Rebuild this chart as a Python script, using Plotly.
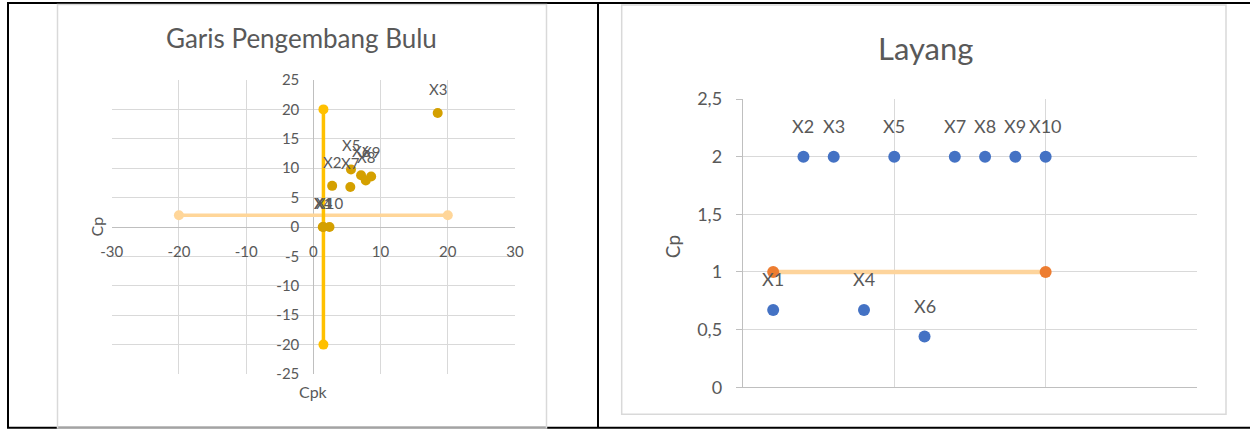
import plotly.graph_objects as go

W, H = 1250, 429


def px(x):
    """Pixel column -> paper fraction."""
    return x / W


def py(y):
    """Pixel row (from top) -> paper fraction."""
    return 1 - y / H


point_names = ["X1", "X2", "X3", "X4", "X5", "X6", "X7", "X8", "X9", "X10"]

# --- Garis Pengembang Bulu: Cpk (x) vs Cp (y) ---
bulu_cpk = [1.4, 2.8, 18.5, 1.5, 5.6, 7.1, 5.5, 7.8, 8.6, 2.4]
bulu_cp = [0.0, 7.0, 19.4, 0.0, 9.8, 8.8, 6.8, 7.9, 8.6, 0.0]
bulu_vline_x = [1.5, 1.5]
bulu_vline_y = [20, -20]
bulu_hline_x = [-20, 20]
bulu_hline_y = [2, 2]
bulu_xticks = [-30, -20, -10, 0, 10, 20, 30]
bulu_yticks = [25, 20, 15, 10, 5, 0, -5, -10, -15, -20, -25]

# --- Layang: Cp per item ---
layang_x = [1, 2, 3, 4, 5, 6, 7, 8, 9, 10]
layang_cp = [0.67, 2, 2, 0.67, 2, 0.44, 2, 2, 2, 2]
layang_line_x = [1, 10]
layang_line_y = [1, 1]
layang_yticks = [0, 0.5, 1, 1.5, 2, 2.5]
layang_yticktext = ["0", "0,5", "1", "1,5", "2", "2,5"]

FONT = "Lato"
TXT = "#595959"
GRID = "#D9D9D9"
AXIS = "#BFBFBF"

fig = go.Figure()

# left chart traces
fig.add_trace(go.Scatter(x=bulu_hline_x, y=bulu_hline_y, mode="lines+markers",
                         line=dict(color="#FFD699", width=3.5),
                         marker=dict(color="#FFD699", size=10),
                         xaxis="x", yaxis="y", hoverinfo="skip"))
fig.add_trace(go.Scatter(x=bulu_vline_x, y=bulu_vline_y, mode="lines+markers",
                         line=dict(color="#FFC000", width=3.5),
                         marker=dict(color="#FFC000", size=10),
                         xaxis="x", yaxis="y", hoverinfo="skip"))
fig.add_trace(go.Scatter(x=bulu_cpk, y=bulu_cp, mode="markers",
                         marker=dict(color="#D4A000", size=10),
                         xaxis="x", yaxis="y", text=point_names))

# right chart traces
fig.add_trace(go.Scatter(x=layang_line_x, y=layang_line_y, mode="lines+markers",
                         line=dict(color="#FDD49C", width=4.5),
                         marker=dict(color="#ED7D31", size=12),
                         xaxis="x2", yaxis="y2", hoverinfo="skip"))
fig.add_trace(go.Scatter(x=layang_x, y=layang_cp, mode="markers",
                         marker=dict(color="#4472C4", size=12),
                         xaxis="x2", yaxis="y2", text=point_names))

annotations = []
for name, xv, yv in zip(point_names, bulu_cpk, bulu_cp):
    annotations.append(dict(x=xv, y=yv, xref="x", yref="y", text=name,
                            showarrow=False, yshift=24,
                            font=dict(family=FONT, size=15, color=TXT)))
for name, xv, yv in zip(point_names, layang_x, layang_cp):
    annotations.append(dict(x=xv, y=yv, xref="x2", yref="y2", text=name,
                            showarrow=False, yshift=31,
                            font=dict(family=FONT, size=18, color=TXT)))

# titles
annotations += [
    dict(x=px(301.7), y=py(38.3), xref="paper", yref="paper", text="Garis Pengembang Bulu",
         showarrow=False, xanchor="center", yanchor="middle",
         font=dict(family=FONT, size=26, color=TXT)),
    dict(x=px(925), y=py(48), xref="paper", yref="paper", text="Layang",
         showarrow=False, xanchor="center", yanchor="middle",
         font=dict(family=FONT, size=31, color=TXT)),
    dict(x=px(96.7), y=py(226.7), xref="paper", yref="paper", text="Cp", textangle=-90,
         showarrow=False, xanchor="center", yanchor="middle",
         font=dict(family=FONT, size=16, color=TXT)),
    dict(x=px(313), y=py(391.7), xref="paper", yref="paper", text="Cpk",
         showarrow=False, xanchor="center", yanchor="middle",
         font=dict(family=FONT, size=16, color=TXT)),
    dict(x=px(672.5), y=py(246.7), xref="paper", yref="paper", text="Cp", textangle=-90,
         showarrow=False, xanchor="center", yanchor="middle",
         font=dict(family=FONT, size=19, color=TXT)),
]


# table borders and chart frames
def line(x0, y0, x1, y1, color, width):
    return dict(type="line", xref="paper", yref="paper",
                x0=px(x0), y0=py(y0), x1=px(x1), y1=py(y1),
                line=dict(color=color, width=width), layer="above")


def rect(x0, y0, x1, y1, color, width):
    return dict(type="rect", xref="paper", yref="paper",
                x0=px(x0), y0=py(y0), x1=px(x1), y1=py(y1),
                line=dict(color=color, width=width), fillcolor="rgba(0,0,0,0)", layer="above")


shapes = [
    line(7, 3, 1250, 3, "black", 2),
    line(8, 2, 8, 428, "black", 2),
    line(598, 2, 598, 428, "black", 2),
    line(7, 427.8, 1250, 427.8, "black", 2),
    rect(57.5, 4.5, 546.5, 428, GRID, 1.5),
    rect(621.7, 5, 1226, 414.3, GRID, 1.5),
]

fig.update_layout(
    width=W, height=H,
    margin=dict(l=0, r=0, t=0, b=0, autoexpand=False),
    paper_bgcolor="white", plot_bgcolor="white",
    showlegend=False,
    separators=",.",
    font=dict(family=FONT, color=TXT),
    annotations=annotations,
    shapes=shapes,
    xaxis=dict(domain=[px(111.7), px(515)], range=[-30, 30], automargin=False,
               tickvals=bulu_xticks, ticktext=[str(v) for v in bulu_xticks],
               showgrid=True, gridcolor=GRID, gridwidth=1,
               zeroline=True, zerolinecolor=AXIS, zerolinewidth=1.3,
               showline=False, ticks="", anchor="free", position=py(226.7),
               ticklabelstandoff=14, tickfont=dict(family=FONT, size=15, color=TXT)),
    yaxis=dict(domain=[py(374), py(80)], range=[-25, 25], automargin=False,
               tickvals=bulu_yticks, ticktext=[str(v) for v in bulu_yticks],
               showgrid=True, gridcolor=GRID, gridwidth=1,
               zeroline=True, zerolinecolor=AXIS, zerolinewidth=1.3,
               showline=False, ticks="", anchor="free", position=px(313.3),
               ticklabelstandoff=14, tickfont=dict(family=FONT, size=15, color=TXT)),
    xaxis2=dict(domain=[px(742.9), px(1197)], range=[0, 15], dtick=5, automargin=False,
                showticklabels=False, showgrid=True, gridcolor=GRID, gridwidth=1,
                zeroline=False, showline=True, linecolor=AXIS, linewidth=1.3,
                anchor="y2"),
    yaxis2=dict(domain=[py(387.3), py(99)], range=[0, 2.5], automargin=False,
                tickvals=layang_yticks, ticktext=layang_yticktext,
                showgrid=True, gridcolor=GRID, gridwidth=1,
                zeroline=False, showline=True, linecolor=AXIS, linewidth=1.3,
                ticks="outside", ticklen=6, tickcolor=AXIS,
                ticklabelstandoff=10,
                anchor="x2", tickfont=dict(family=FONT, size=18, color=TXT)),
)

fig.write_html("out.html")
